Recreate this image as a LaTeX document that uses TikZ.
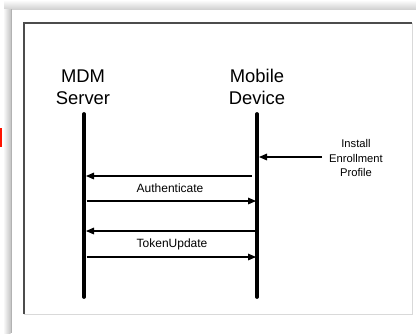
\documentclass[tikz,border=0pt]{standalone}
\usepackage{fontspec}
\setmainfont{Liberation Sans}
\usetikzlibrary{arrows.meta}
\begin{document}
\begin{tikzpicture}[x=0.75pt,y=-0.75pt,
 lifeline/.style={line width=2.8pt,line cap=round},
 msg/.style={line width=0.8pt,-{Triangle[length=6pt,width=5pt]}},
 head/.style={font=\fontsize{13.8}{16.5}\selectfont,align=center,inner sep=0pt},
 lbl/.style={font=\fontsize{9}{11}\selectfont,inner sep=0pt},
 note/.style={font=\fontsize{8.4}{10.9}\selectfont,align=center,inner sep=0pt}]
\useasboundingbox (0,0) rectangle (416,333);
\fill[white] (0,0) rectangle (416,333);
% page shadow
\shade[top color=white,bottom color=gray!35] (4,0) rectangle (416,9);
\shade[left color=white,right color=gray!45] (3,9) rectangle (10.5,333);
\fill[gray!60] (10.5,9) rectangle (12,333);
% clipped red mark
\fill[red!85!orange] (0,128) rectangle (2.3,147);
% inner frame
\draw[gray!30, line width=0.75pt] (412,23) -- (412,314) -- (23.5,314);
\draw[black!70, line width=1.5pt] (23.5,314) -- (23.5,23) -- (412,23);
% headers
\node[head] (mdm) at (83,87) {MDM\\Server};
\node[head] (dev) at (257,87) {Mobile\\Device};
% lifelines
\coordinate (mtop) at (84,114);
\coordinate (mbot) at (84,297);
\coordinate (dtop) at (257,114);
\coordinate (dbot) at (257,297);
\draw[lifeline] (mtop) -- (mbot);
\draw[lifeline] (dtop) -- (dbot);
% install note
\node[note] (inst) at (356,158) {Install\\Enrollment\\Profile};
\coordinate (is) at (322,157);
\coordinate (ie) at (259,157);
\draw[msg] (is) -- (ie);
% messages
\coordinate (a1s) at (252,176);
\coordinate (a1e) at (86,176);
\coordinate (a2s) at (86.5,201);
\coordinate (a2e) at (256,201);
\coordinate (a3s) at (255,231);
\coordinate (a3e) at (86,231);
\coordinate (a4s) at (86.5,257);
\coordinate (a4e) at (256,257);
\draw[msg] (a1s) -- (a1e);
\draw[msg] (a2s) -- (a2e);
\draw[msg] (a3s) -- (a3e);
\draw[msg] (a4s) -- (a4e);
\node[lbl] (auth) at (170,188) {Authenticate};
\node[lbl] (tok) at (172,244) {TokenUpdate};
\end{tikzpicture}
\end{document}
